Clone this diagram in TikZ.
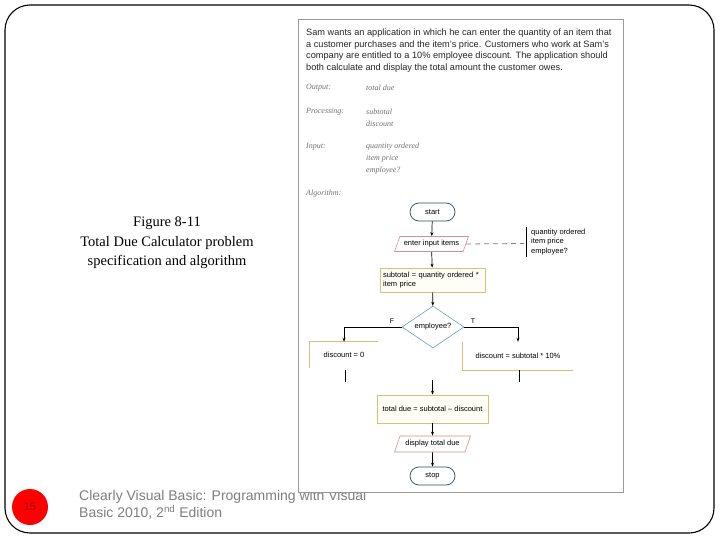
\documentclass[tikz,border=0pt]{standalone}
\usepackage{fontspec}
\setmainfont{Liberation Serif}
\setsansfont{Liberation Sans}
\usetikzlibrary{shapes.geometric,arrows.meta}
\definecolor{boxtan}{HTML}{D9BF78}
\definecolor{boxfill}{HTML}{FFFEF6}
\definecolor{iored}{HTML}{D49090}
\definecolor{termblue}{HTML}{2E4A5A}
\definecolor{decteal}{HTML}{6AA3A8}
\definecolor{figgray}{HTML}{9A9A9A}
\definecolor{handgray}{HTML}{707070}
\definecolor{footgray}{HTML}{7F7F7F}
\definecolor{numred}{HTML}{8A1010}
\begin{document}
\begin{tikzpicture}[x=1pt,y=-1pt,
  flow/.style={font=\sffamily\fontsize{7.5}{9}\selectfont, inner sep=1pt},
  term/.style={flow, draw=termblue, line width=0.7pt, rounded corners=9pt, minimum width=45pt, minimum height=18pt},
  iobox/.style={flow, draw=iored, line width=0.6pt, trapezium, trapezium left angle=62, trapezium right angle=118, trapezium stretches=true, minimum height=15pt},
  procbox/.style={flow, draw=boxtan, fill=boxfill, line width=0.7pt, minimum height=24pt},
  decbox/.style={flow, draw=decteal, line width=0.6pt, diamond, aspect=1.5, minimum width=62pt, minimum height=42pt},
  openbox/.style={flow},
  edge/.style={draw=black, line width=0.7pt},
  arr/.style={edge, -{Stealth[length=4pt,width=3pt]}},
  hand/.style={font=\itshape\fontsize{8}{12}\selectfont, text=handgray, inner sep=0pt, anchor=west},
]
\useasboundingbox (0,0) rectangle (720,540);
\fill[white] (0,0) rectangle (720,540);
% slide frame
\draw[line width=1.1pt, rounded corners=25pt] (5,5) rectangle (714,533);

% caption
\node[font=\fontsize{14.5}{19.5}\selectfont, align=center] (caption) at (167,243)
  {Figure 8-11\\Total Due Calculator problem\\specification and algorithm};

% footer
\node[circle, fill=red, minimum size=36pt, inner sep=0pt, text=numred, font=\sffamily\fontsize{11}{12}\selectfont] (pagenum) at (30,507) {15};
\node[anchor=west, align=left, text=footgray, font=\sffamily\fontsize{14}{17}\selectfont, inner sep=0pt] (footer) at (79,505)
  {Clearly Visual Basic: Programming with Visual\\Basic 2010, 2\textsuperscript{nd} Edition};

% figure panel
\draw[figgray, fill=white, line width=1pt] (298,20) rectangle (623,492);

\node[anchor=north west, align=left, inner sep=0pt, font=\sffamily\fontsize{9.2}{11.7}\selectfont, text=black!85] (spec) at (306,28.5)
  {Sam wants an application in which he can enter the quantity of an item that\\
   a customer purchases and the item's price. Customers who work at Sam's\\
   company are entitled to a 10\% employee discount. The application should\\
   both calculate and display the total amount the customer owes.};

\node[hand] (lout) at (306,88) {Output:};
\node[hand] (vout) at (366,88) {total due};
\node[hand] (lproc) at (306,112) {Processing:};
\node[hand] (vproc1) at (366,112) {subtotal};
\node[hand] (vproc2) at (366,124) {discount};
\node[hand] (lin) at (306,147) {Input:};
\node[hand] (vin1) at (366,147) {quantity ordered};
\node[hand] (vin2) at (366,159) {item price};
\node[hand] (vin3) at (366,171) {employee?};
\node[hand] (lalg) at (306,194) {Algorithm:};

% flowchart
\node[term] (start) at (432.5,212) {start};
\node[iobox, minimum width=74pt] (enter) at (431.5,244) {enter input items};
\node[procbox, minimum width=105pt, align=left, text width=99pt] (sub) at (432.5,280)
  {subtotal = quantity ordered *\\item price};
\node[decbox] (dec) at (433,327) {employee?};
\node[openbox, minimum width=68pt, minimum height=26pt] (dz) at (344,355) {discount = 0};
\node[openbox, minimum width=110pt, minimum height=28pt] (ds) at (518,356) {discount = subtotal * 10\%};
\node[procbox, minimum width=111pt, minimum height=28pt] (tot) at (432.5,409) {total due = subtotal -- discount};
\node[iobox, minimum width=76pt, minimum height=16pt] (disp) at (432.5,444) {display total due};
\node[term] (stop) at (432.5,476) {stop};

% input list
\node[anchor=west, align=left, flow, font=\sffamily\fontsize{7.5}{9.6}\selectfont] (inlist) at (530,242)
  {quantity ordered\\item price\\employee?};
\coordinate (barT) at (526,227);
\coordinate (barB) at (526,257);
\coordinate (dashend) at (524,243.5);
\draw[edge] (barT) -- (barB);
\draw[gray, line width=0.8pt, dash pattern=on 5pt off 4pt] (enter.east) -- (dashend);

% open boxes
\draw[boxtan, line width=0.7pt] (dz.south west) -- (dz.north west) -- (dz.north east);
\draw[boxtan, line width=0.7pt] (ds.north west) -- (ds.south west) -- (ds.south east);

% connectors
\draw[arr] (start) -- (enter);
\draw[arr] (enter) -- (sub);
\draw[arr] (sub) -- (dec);
\draw[arr] (dec.west) -| (dz.north);
\draw[arr] (dec.east) -| (ds.north);
\node[flow, font=\sffamily\fontsize{7}{8}\selectfont, anchor=south] (flab) at (392,325) {F};
\node[flow, font=\sffamily\fontsize{7}{8}\selectfont, anchor=south] (tlab) at (473,325) {T};
\coordinate (lstubA) at (345,370);
\coordinate (lstubB) at (345,382);
\coordinate (rstubA) at (519,370);
\coordinate (rstubB) at (519,382);
\draw[edge] (lstubA) -- (lstubB);
\draw[edge] (rstubA) -- (rstubB);
\coordinate (merge) at (432.5,380);
\draw[arr] (merge) -- (tot);
\draw[arr] (tot) -- (disp);
\draw[arr] (disp) -- (stop);
\end{tikzpicture}
\end{document}
